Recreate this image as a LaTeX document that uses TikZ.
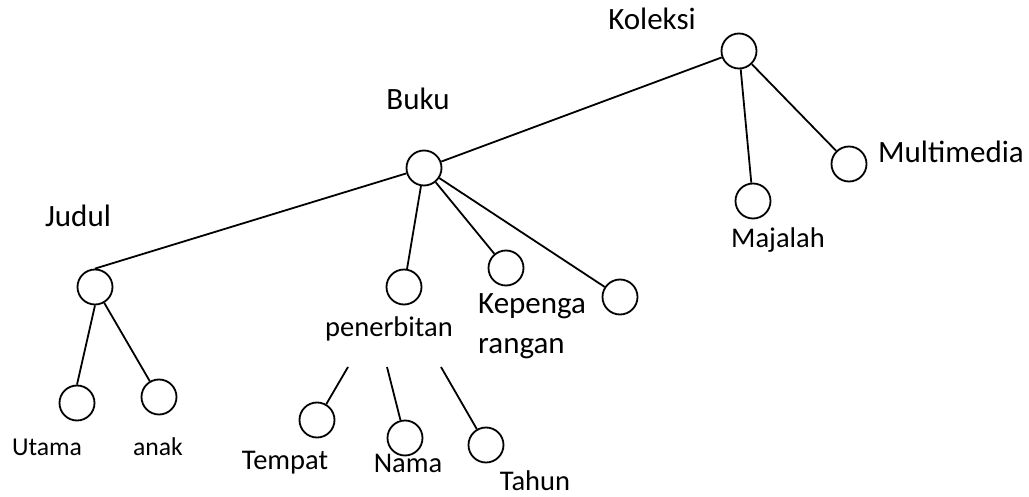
\documentclass[tikz,border=0pt]{standalone}
\usepackage{fontspec}
\setmainfont{Carlito}
\begin{document}
\begin{tikzpicture}[x=1pt,y=-1pt,
  nd/.style={circle,draw,line width=1.8pt,minimum size=35pt,inner sep=0pt},
  edge/.style={line width=1.8pt},
  lbig/.style={inner sep=0pt,font=\fontsize{31}{40}\selectfont},
  lmed/.style={inner sep=0pt,font=\fontsize{28.5}{34}\selectfont},
  lsmall/.style={inner sep=0pt,font=\fontsize{25.7}{30}\selectfont}]
\useasboundingbox (0,0) rectangle (1029,497);
% circles
\node[nd] (kol) at (739,51) {};
\node[nd] (maj) at (753,201) {};
\node[nd] (mul) at (849,164) {};
\node[nd] (buku) at (424,168) {};
\node[nd] (jud) at (95,287) {};
\node[nd] (uta) at (77,403) {};
\node[nd] (anak) at (159,397) {};
\node[nd] (pen) at (404,287) {};
\node[nd] (kep) at (506,268) {};
\node[nd] (x4) at (620,297) {};
\node[nd] (tem) at (317,420) {};
\node[nd] (nam) at (405,438) {};
\node[nd] (tah) at (486,445) {};
% free ends
\coordinate (p1) at (348,367);
\coordinate (p2) at (387,367);
\coordinate (p3) at (441,367);
% labels
\node[lbig] (tkol) at (652,19) {Koleksi};
\node[lbig] (tmul) at (951,152) {Multimedia};
\node[lmed] (tmaj) at (778,240) {Majalah};
\node[lbig] (tbuku) at (418,99) {Buku};
\node[lbig] (tjud) at (78,216) {Judul};
\node[lsmall] (tuta) at (47,447) {Utama};
\node[lsmall] (tanak) at (158,447) {anak};
\node[lmed] (tpen) at (389,329) {penerbitan};
\node[lbig,align=left,anchor=west] (tkep) at (478,326) {Kepenga\\rangan};
\node[lmed] (ttem) at (285,463) {Tempat};
\node[lmed] (tnam) at (408,463) {Nama};
\node[lmed] (ttah) at (535,481) {Tahun};
% edges
\draw[edge] (kol) -- (buku);
\draw[edge] (buku) -- (jud.north);
\draw[edge] (kol) -- (maj);
\draw[edge] (kol) -- (mul);
\draw[edge] (buku) -- (pen);
\draw[edge] (buku) -- (kep);
\draw[edge] (buku) -- (x4);
\draw[edge] (jud.south) -- (uta.north);
\draw[edge] (jud) -- (anak);
\draw[edge] (p1) -- (tem);
\draw[edge] (p2) -- (nam);
\draw[edge] (p3) -- (tah);
\end{tikzpicture}
\end{document}
